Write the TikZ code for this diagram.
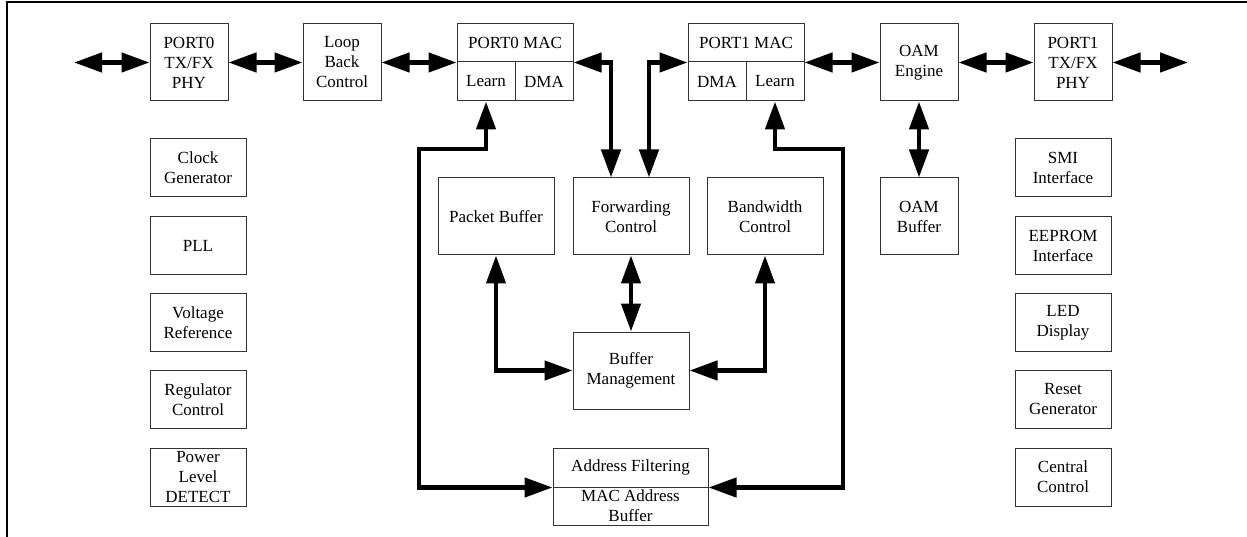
\documentclass[tikz,border=0pt]{standalone}
\usepackage{fontspec}
\setmainfont{Liberation Serif}
\usetikzlibrary{arrows.meta}

\tikzset{
	blk/.style={draw=black!80, line width=1pt, inner sep=0pt, align=center, font=\fontsize{17pt}{20pt}\selectfont},
	unit/.style={blk, minimum width=78pt, minimum height=77pt},
	wide/.style={blk, minimum width=116pt, minimum height=77pt},
	side/.style={blk, minimum width=96pt, minimum height=58pt},
	link/.style={line width=4.5pt, <->}
}

\begin{document}
\begin{tikzpicture}[x=1pt, y=-1pt, >={Triangle[length=28pt,width=19pt]}]
	
	\useasboundingbox (0,0) rectangle (1247,537);
	\draw[line width=1.5pt] (7,537) -- (7,2) -- (1247,2);
	
	% top row
	\node[unit] (phy0) at (189,62.5) {PORT0\\TX/FX\\PHY};
	\node[unit] (loop) at (342,62.5) {Loop\\Back\\Control};
	\node[blk, minimum width=116pt, minimum height=38pt] (mac0t) at (515,43) {PORT0 MAC};
	\node[blk, minimum width=58pt, minimum height=39pt] (mac0l) at (486,81.5) {Learn};
	\node[blk, minimum width=58pt, minimum height=39pt] (mac0d) at (544,81.5) {DMA};
	\node[blk, minimum width=116pt, minimum height=38pt] (mac1t) at (746,43) {PORT1 MAC};
	\node[blk, minimum width=58pt, minimum height=39pt] (mac1d) at (717,81.5) {DMA};
	\node[blk, minimum width=58pt, minimum height=39pt] (mac1l) at (775,81.5) {Learn};
	\node[unit] (oam) at (919,62.5) {OAM\\Engine};
	\node[unit] (phy1) at (1073,62.5) {PORT1\\TX/FX\\PHY};
	\coordinate (ext0) at (74,62.5);
	\coordinate (ext1) at (1188,62.5);
	
	% middle
	\node[wide] (pb) at (496,216.5) {Packet Buffer};
	\node[wide] (fwd) at (631,216.5) {Forwarding\\Control};
	\node[wide] (bw) at (765,216.5) {Bandwidth\\Control};
	\node[wide] (bm) at (631,370.5) {Buffer\\Management};
	\node[unit] (oamb) at (919,216.5) {OAM\\Buffer};
	\node[blk, minimum width=155pt, minimum height=39pt] (addrf) at (630.5,467.5) {Address Filtering};
	\node[blk, minimum width=155pt, minimum height=38pt] (addrb) at (630.5,506) {MAC Address\\Buffer};
	
	% left column
	\node[side] (clk) at (198,168) {Clock\\Generator};
	\node[side] (pll) at (198,245.5) {PLL};
	\node[side] (vref) at (198,322.5) {Voltage\\Reference};
	\node[side] (reg) at (198,399.5) {Regulator\\Control};
	\node[side] (pwr) at (198,477) {Power\\Level\\DETECT};
	
	% right column
	\node[side] (smi) at (1063,168) {SMI\\Interface};
	\node[side] (eep) at (1063,245.5) {EEPROM\\Interface};
	\node[side] (led) at (1063,322.5) {LED\\Display};
	\node[side] (rst) at (1063,399.5) {Reset\\Generator};
	\node[side] (cen) at (1063,477) {Central\\Control};
	
	% links
	\draw[link] (ext0) -- (phy0.west);
	\draw[link] (phy0.east) -- (loop.west);
	\draw[link] (loop.east) -- (loop.east -| mac0t.south west);
	\draw[link] (oam.west -| mac1t.south east) -- (oam.west);
	\draw[link] (oam.east) -- (phy1.west);
	\draw[link] (phy1.east) -- (ext1);
	\draw[link] (mac0t.south east) -| ([xshift=-20pt]fwd.north);
	\draw[link] (mac1t.south west) -| ([xshift=18pt]fwd.north);
	\draw[link] (mac0l.south) |- (419,149) |- (addrf.south west);
	\draw[link] (mac1l.south) |- (843,149) |- (addrf.south east);
	\draw[link] (pb.south) |- (bm.west);
	\draw[link] (bw.south) |- (bm.east);
	\draw[link] (fwd.south) -- (bm.north);
	\draw[link] (oam.south) -- (oamb.north);
	
\end{tikzpicture}
\end{document}
